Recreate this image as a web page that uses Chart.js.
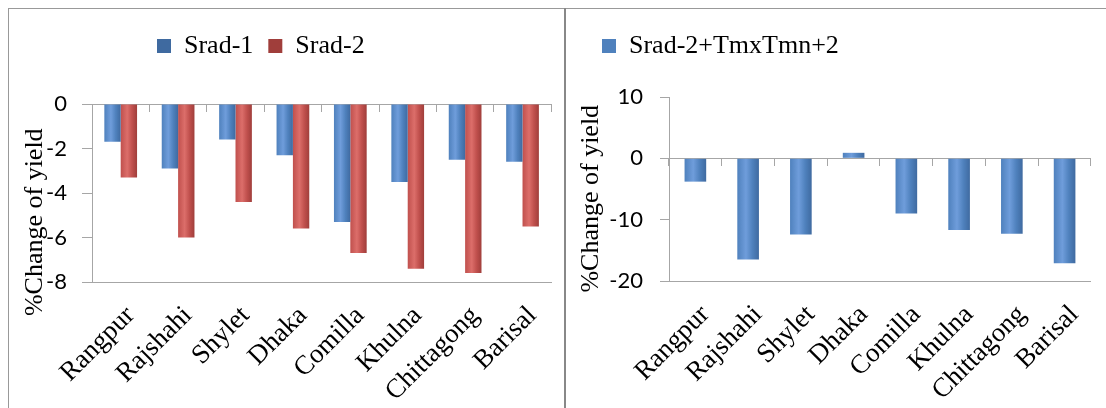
<!DOCTYPE html>
<html>
<head>
<meta charset="utf-8">
<script src="https://cdn.jsdelivr.net/npm/chart.js@4/dist/chart.umd.min.js"></script>
<style>
  body { margin: 0; background: #fff; }
  #page { position: relative; width: 1106px; height: 408px; overflow: hidden; background: #fff; }
  .line { position: absolute; background: #999; }
  canvas { position: absolute; }
</style>
</head>
<body>
<div id="page">
  <div class="line" style="left:8px;top:8px;width:1098px;height:1px;"></div>
  <div class="line" style="left:8px;top:8px;width:1px;height:400px;"></div>
  <div class="line" style="left:564px;top:8px;width:2px;height:400px;background:#888;"></div>
  <canvas id="left" width="555" height="399" style="left:9px;top:9px;"></canvas>
  <canvas id="right" width="540" height="399" style="left:566px;top:9px;"></canvas>
</div>
<script>
const regions = ['Rangpur', 'Rajshahi', 'Shylet', 'Dhaka', 'Comilla', 'Khulna', 'Chittagong', 'Barisal'];
const srad1 = [-1.7, -2.9, -1.6, -2.3, -5.3, -3.5, -2.5, -2.6];
const srad2 = [-3.3, -6.0, -4.4, -5.6, -6.7, -7.4, -7.6, -5.5];
const srad2Tmx = [-3.8, -16.5, -12.4, 0.9, -9.0, -11.7, -12.3, -17.1];
// y range: min, max, step
const leftRange = [-8, 0, 2];
const rightRange = [-20, 10, 10];

const AXIS_GREY = '#a6a6a6';
const SERIF = "'Liberation Serif', 'Times New Roman', serif";

// soft horizontal shading so the bars look like the round columns
const barFill = (base, light, dark) => (ctx) => {
  const el = ctx.element;
  if (!el || el.x == null || isNaN(el.x) || !el.width) return base;
  const g = ctx.chart.ctx.createLinearGradient(el.x - el.width / 2, 0, el.x + el.width / 2, 0);
  g.addColorStop(0, base);
  g.addColorStop(0.4, light);
  g.addColorStop(0.7, base);
  g.addColorStop(1, dark);
  return g;
};

// moves the legend to a fixed spot without changing the plot area
const legendSpot = {
  id: 'legendSpot',
  beforeDraw(chart, args, opts) {
    const lg = chart.legend;
    if (!lg) return;
    lg.left = opts.x;
    lg.right = opts.x + lg.width;
    lg.top = opts.y;
    lg.height = 60;
    lg.bottom = opts.y + 60;
  }
};

const createChart = (canvas, datasets, range, cfg) => {
  const chart = new Chart(canvas.getContext('2d'), {
    type: 'bar',
    data: { labels: regions, datasets: datasets },
    options: {
      responsive: false,
      animation: false,
      devicePixelRatio: 1,
      layout: { padding: cfg.padding },
      categoryPercentage: cfg.catPct,
      barPercentage: 1.0,
      scales: {
        x: {
          type: 'category',
          offset: true,
          grid: { display: false, drawTicks: false },
          border: { display: true, color: AXIS_GREY },
          ticks: {
            autoSkip: false,
            minRotation: 45,
            maxRotation: 45,
            padding: cfg.xPad,
            labelOffset: cfg.xShift,
            color: '#000',
            font: { family: SERIF, size: 27 }
          },
          afterFit: (s) => { s.height = cfg.xHeight; }
        },
        x2: {
          type: 'category',
          axis: 'x',
          position: { y: 0 },
          offset: true,
          grid: { offset: true, drawOnChartArea: false, tickLength: 7, color: AXIS_GREY },
          border: { color: AXIS_GREY },
          ticks: { display: false }
        },
        y: {
          min: range[0],
          max: range[1],
          ticks: {
            stepSize: range[2],
            padding: cfg.yPad,
            color: '#000',
            font: { family: 'Lato', size: 22 }
          },
          grid: { drawOnChartArea: false, tickLength: cfg.tick, color: AXIS_GREY },
          border: { color: AXIS_GREY },
          title: {
            display: true,
            text: '%Change of yield' + cfg.titleTail,
            color: '#000',
            font: { family: SERIF, size: 26 },
            padding: { top: cfg.titleTop, bottom: 0 }
          },
          afterFit: (s) => { s.width = cfg.yWidth; }
        }
      },
      plugins: {
        legend: {
          position: 'top',
          align: 'start',
          maxHeight: 40,
          labels: {
            boxWidth: 14,
            boxHeight: 14,
            padding: 15,
            color: '#000',
            font: { family: SERIF, size: 26 }
          }
        },
        legendSpot: { x: cfg.legendX, y: cfg.legendY },
        tooltip: { enabled: false }
      }
    },
    plugins: [legendSpot]
  });
  // second pass so the shading knows where each bar is
  chart.update('none');
  return chart;
};

const blueFill = barFill('#4f81bd', '#6f9ddb', '#3f6aa0');
const redFill = barFill('#c0504d', '#dc6e6a', '#a03e3b');

createChart(document.getElementById('left'), [
  { label: 'Srad-1', data: srad1, backgroundColor: blueFill, borderWidth: 0 },
  { label: 'Srad-2', data: srad2, backgroundColor: redFill, borderWidth: 0 }
], leftRange, {
  padding: { top: 55, left: 0, right: 9, bottom: 0 },
  catPct: 0.57,
  xHeight: 126,
  xPad: 18,
  xShift: 10,
  yPad: 15,
  tick: 10,
  yWidth: 83,
  titleTop: 11,
  titleTail: '         ',
  legendX: 133,
  legendY: 9
});

createChart(document.getElementById('right'), [
  { label: 'Srad-2+TmxTmn+2', data: srad2Tmx, backgroundColor: blueFill, borderWidth: 0 }
], rightRange, {
  padding: { top: 48, left: 0, right: 8, bottom: 0 },
  catPct: 0.41,
  xHeight: 127,
  xPad: 18,
  xShift: 10,
  yPad: 17,
  tick: 9,
  yWidth: 103,
  titleTop: 10,
  titleTail: '   ',
  legendX: 21,
  legendY: 9
});
</script>
</body>
</html>
